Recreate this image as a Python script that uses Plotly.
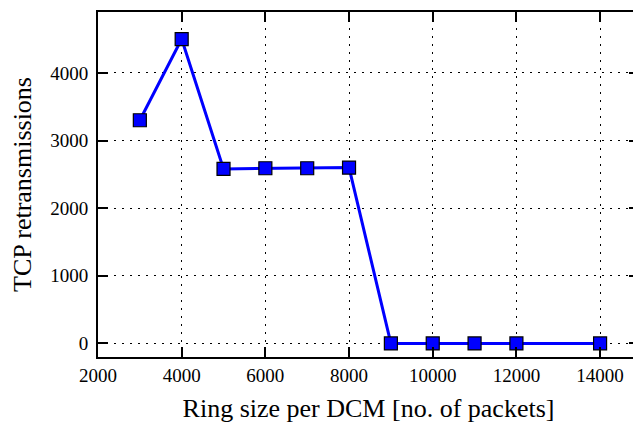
import plotly.graph_objects as go

ring_size = [3000, 4000, 5000, 6000, 7000, 8000, 9000, 10000, 11000, 12000, 14000]
retransmissions = [3300, 4500, 2580, 2590, 2590, 2600, 0, 0, 0, 0, 0]
x_ticks = [2000, 4000, 6000, 8000, 10000, 12000, 14000]
y_ticks = [0, 1000, 2000, 3000, 4000]

FONT = "Liberation Serif"

fig = go.Figure()
fig.add_trace(go.Scatter(
    x=ring_size, y=retransmissions, mode="lines+markers",
    line=dict(color="#0000ff", width=3),
    marker=dict(symbol="square", size=13, color="#0000ff",
                line=dict(color="#000000", width=1.2)),
    showlegend=False,
))

axis_common = dict(
    showline=True, linecolor="black", linewidth=2, mirror="ticks",
    ticks="inside", ticklen=10, tickwidth=1.5, tickcolor="black",
    showgrid=True, gridcolor="black", gridwidth=1, griddash="2px,6px",
    zeroline=False,
    tickfont=dict(family=FONT, size=19, color="black"),
)

fig.update_xaxes(
    range=[2000, 14930], tickvals=x_ticks, ticktext=[str(v) for v in x_ticks],
    title=dict(text="Ring size per DCM [no. of packets]",
               font=dict(family=FONT, size=26, color="black"), standoff=14),
    **axis_common,
)
fig.update_yaxes(
    range=[-200, 4900], tickvals=y_ticks, ticktext=[str(v) for v in y_ticks],
    ticklabelstandoff=4,
    title=dict(text="TCP retransmissions",
               font=dict(family=FONT, size=26, color="black"), standoff=12),
    **axis_common,
)

fig.update_layout(
    width=633, height=416,
    margin=dict(l=90, r=0, t=4, b=67),
    paper_bgcolor="white", plot_bgcolor="white",
)

fig.write_html("out.html")
